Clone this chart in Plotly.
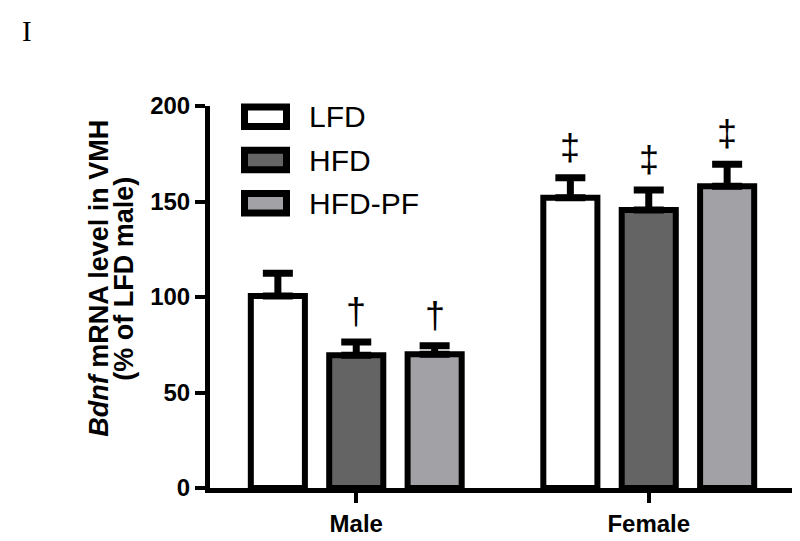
import plotly.graph_objects as go

# data (% of LFD male)
sexes = ['Male', 'Female']
diets = ['LFD', 'HFD', 'HFD-PF']

lfd_mean   = [100.5, 152.0]
lfd_sem    = [12.0, 10.5]
hfd_mean   = [69.5, 145.5]
hfd_sem    = [7.0, 10.5]
hfdpf_mean = [70.0, 158.0]
hfdpf_sem  = [4.5, 11.5]

lfd_sig   = ['', '\u2021']
hfd_sig   = ['\u2020', '\u2021']
hfdpf_sig = ['\u2020', '\u2021']

y_ticks = [0, 50, 100, 150, 200]

WHITE = '#ffffff'
DARK  = '#646464'
LIGHT = '#a2a2a6'
BLACK = '#000000'
FONT  = 'Liberation Sans, Arial, sans-serif'

W, H = 800, 541
L, R, T, B = 202, 13, 98, 54
BARGAP = 0.196

def px_x(px):
    return (px - L) / (W - L - R)

def px_y(py):
    return (H - B - py) / (H - T - B)

series = [
    ('LFD', lfd_mean, lfd_sem, lfd_sig, WHITE),
    ('HFD', hfd_mean, hfd_sem, hfd_sig, DARK),
    ('HFD-PF', hfdpf_mean, hfdpf_sem, hfdpf_sig, LIGHT),
]

fig = go.Figure()
for name, mean, sem, sig, col in series:
    fig.add_trace(go.Bar(
        name=name, x=sexes, y=mean,
        marker=dict(color=col, line=dict(color=BLACK, width=6)),
        error_y=dict(type='data', array=sem, arrayminus=[0] * len(sem),
                     symmetric=False, color=BLACK, thickness=7, width=15),
        showlegend=False,
    ))

# significance marks above the error bars
slot = (1 - BARGAP) / len(series)
annotations = []
for i, (name, mean, sem, sig, col) in enumerate(series):
    for j, s in enumerate(sig):
        if not s:
            continue
        annotations.append(dict(
            x=j + (i - 1) * slot, y=mean[j] + sem[j] + 16, xref='x', yref='y',
            text=s, showarrow=False, font=dict(family=FONT, size=36, color=BLACK),
            xanchor='center', yanchor='middle'))

# hand-drawn legend with large boxes
shapes = []
legend_rows = [109, 153, 197]
for (name, mean, sem, sig, col), cy in zip(series, legend_rows):
    shapes.append(dict(
        type='rect', xref='paper', yref='paper',
        x0=px_x(236.5), x1=px_x(278.5), y0=px_y(cy - 10), y1=px_y(cy + 10),
        line=dict(color=BLACK, width=7), fillcolor=col))
    annotations.append(dict(
        x=px_x(299), y=px_y(cy), xref='paper', yref='paper', text=name,
        showarrow=False, xanchor='left', yanchor='middle',
        font=dict(family=FONT, size=30, color=BLACK)))

# axis title, two lines placed separately
title_lines = ['<i>Bdnf</i> mRNA level in VMH', '(% of LFD male)']
for txt, cx in zip(title_lines, [91, 116]):
    annotations.append(dict(
        x=px_x(cx), y=px_y(274), xref='paper', yref='paper', text=txt,
        textangle=-90, showarrow=False, xanchor='center', yanchor='middle',
        font=dict(family=FONT, size=27, color=BLACK, weight='bold')))

# panel letter
annotations.append(dict(
    x=px_x(12), y=px_y(22), xref='paper', yref='paper', text='I',
    showarrow=False, xanchor='left', yanchor='middle',
    font=dict(family='Liberation Serif, Times New Roman, serif', size=29, color=BLACK)))

fig.update_layout(
    width=W, height=H,
    margin=dict(l=L, r=R, t=T, b=B),
    paper_bgcolor='white', plot_bgcolor='white',
    barmode='group', bargap=BARGAP, bargroupgap=0.31,
    shapes=shapes, annotations=annotations,
    font=dict(family=FONT, color=BLACK),
)
fig.update_xaxes(
    range=[-0.5, 1.5], showline=True, linewidth=5, linecolor=BLACK,
    ticks='outside', ticklen=10, tickwidth=4, tickcolor=BLACK,
    tickfont=dict(family=FONT, size=24, color=BLACK, weight='bold'),
    showgrid=False, zeroline=False)
fig.update_yaxes(
    range=[0, 200], tickvals=y_ticks, showline=True, linewidth=5, linecolor=BLACK,
    ticks='outside', ticklen=10, tickwidth=4, tickcolor=BLACK,
    tickfont=dict(family=FONT, size=24, color=BLACK, weight='bold'),
    showgrid=False, zeroline=False)

fig.write_html('out.html')
